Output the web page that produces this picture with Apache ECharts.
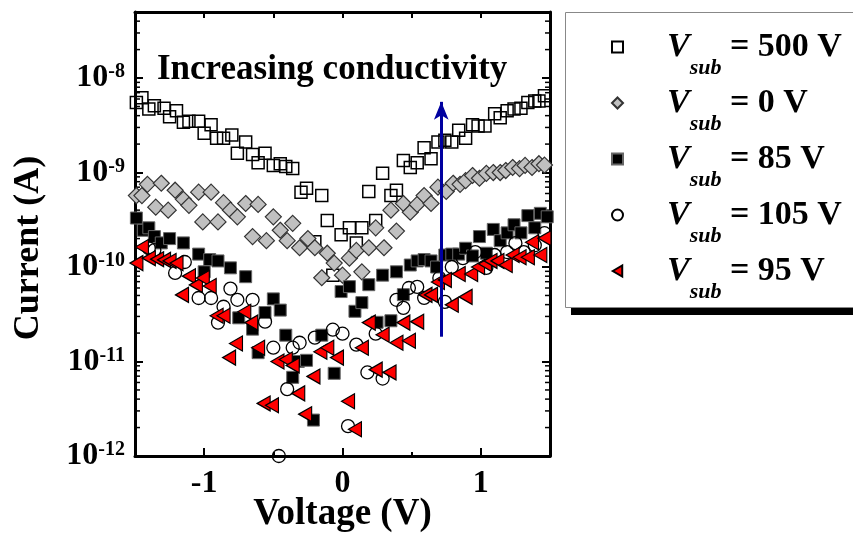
<!DOCTYPE html>
<html><head><meta charset="utf-8">
<script src="https://cdn.jsdelivr.net/npm/echarts@6/dist/echarts.min.js"></script>
<style>html,body{margin:0;padding:0;background:#fff}#c{width:853px;height:537px}</style>
</head><body><div id="c"></div>
<script>
// ---- data ----
const seriesNames = ['500', '0', '85', '105', '95'];
const xTickValues = [-1, 0, 1];
const decades = [-12, -11, -10, -9, -8];
const minorMultipliers = [2, 3, 4, 5, 6, 7, 8, 9];

const sub500 = [[-1.49,5.5e-9],[-1.45,6.2e-9],[-1.40,4.7e-9],[-1.36,5.1e-9],[-1.29,4.8e-9],[-1.25,3.9e-9],[-1.20,4.5e-9],[-1.15,3.4e-9],[-1.11,3.5e-9],[-1.04,3.5e-9],[-1.00,2.6e-9],[-0.95,3.2e-9],[-0.91,2.3e-9],[-0.86,2.3e-9],[-0.80,2.5e-9],[-0.76,1.6e-9],[-0.70,2.1e-9],[-0.65,1.55e-9],[-0.61,1.27e-9],[-0.56,1.6e-9],[-0.50,1.19e-9],[-0.45,1.24e-9],[-0.41,1.16e-9],[-0.36,1.1e-9],[-0.30,6.2e-10],[-0.26,6.8e-10],[-0.20,1.85e-10],[-0.15,5.7e-10],[-0.11,3.1e-10],[-0.07,8.2e-11],[-0.01,2.2e-10],[0.05,2.6e-10],[0.10,1.8e-10],[0.14,2.6e-10],[0.19,6.3e-10],[0.24,3.1e-10],[0.29,9.8e-10],[0.35,5.7e-10],[0.39,6.5e-10],[0.44,1.34e-9],[0.49,1.13e-9],[0.54,1.27e-9],[0.59,1.83e-9],[0.64,1.4e-9],[0.69,2.1e-9],[0.74,2.2e-9],[0.79,2.1e-9],[0.84,2.8e-9],[0.89,2.3e-9],[0.94,3.2e-9],[0.98,3.1e-9],[1.03,3.1e-9],[1.10,4.2e-9],[1.14,3.8e-9],[1.19,4.5e-9],[1.24,4.7e-9],[1.29,4.8e-9],[1.34,5.5e-9],[1.39,5.7e-9],[1.42,5.7e-9],[1.46,6.5e-9]];

const sub0 = [[-1.49,5.7e-10],[-1.45,5.7e-10],[-1.41,7.5e-10],[-1.35,4.3e-10],[-1.31,7.7e-10],[-1.26,4.0e-10],[-1.21,6.5e-10],[-1.15,5.2e-10],[-1.11,4.5e-10],[-1.04,6.2e-10],[-1.01,3.0e-10],[-0.95,6.2e-10],[-0.90,3.0e-10],[-0.86,4.8e-10],[-0.81,4.0e-10],[-0.76,3.4e-10],[-0.70,4.7e-10],[-0.65,2.1e-10],[-0.61,4.6e-10],[-0.55,1.9e-10],[-0.50,3.4e-10],[-0.45,2.45e-10],[-0.40,1.9e-10],[-0.36,2.9e-10],[-0.31,1.6e-10],[-0.25,2.0e-10],[-0.20,1.6e-10],[-0.15,7.7e-11],[-0.11,1.4e-10],[-0.06,1.1e-10],[0.00,8.2e-11],[0.05,1.24e-10],[0.10,1.5e-10],[0.14,8.9e-11],[0.19,1.6e-10],[0.24,2.6e-10],[0.30,1.6e-10],[0.35,4.0e-10],[0.39,2.4e-10],[0.44,4.7e-10],[0.49,3.8e-10],[0.54,4.6e-10],[0.59,5.7e-10],[0.64,4.7e-10],[0.69,7.0e-10],[0.75,6.3e-10],[0.80,7.7e-10],[0.85,7.5e-10],[0.89,8.2e-10],[0.94,9.3e-10],[0.99,8.7e-10],[1.04,9.8e-10],[1.09,1.0e-9],[1.14,1.0e-9],[1.18,1.05e-9],[1.23,1.13e-9],[1.28,1.1e-9],[1.32,1.19e-9],[1.37,1.13e-9],[1.42,1.24e-9],[1.46,1.2e-9]];

const sub85 = [[-1.49,3.3e-10],[-1.44,2.45e-10],[-1.40,2.6e-10],[-1.36,2.1e-10],[-1.31,1.8e-10],[-1.25,2.0e-10],[-1.15,1.8e-10],[-1.04,1.37e-10],[-1.00,8.9e-11],[-0.96,1.2e-10],[-0.90,1.16e-10],[-0.81,9.8e-11],[-0.75,2.9e-11],[-0.70,7.9e-11],[-0.65,2.2e-11],[-0.61,1.24e-11],[-0.56,3.3e-11],[-0.50,4.6e-11],[-0.45,3.5e-11],[-0.41,1.9e-11],[-0.36,6.8e-12],[-0.32,1.0e-11],[-0.26,1.03e-11],[-0.21,2.4e-12],[-0.15,1.9e-11],[-0.06,7.5e-12],[-0.01,5.5e-11],[0.05,6.2e-11],[0.09,3.4e-11],[0.14,4.2e-11],[0.19,6.5e-11],[0.25,2.6e-11],[0.29,8.2e-11],[0.35,2.7e-11],[0.39,8.9e-11],[0.44,5.1e-11],[0.49,1.05e-10],[0.54,1.16e-10],[0.59,1.2e-10],[0.64,1.16e-10],[0.68,1.0e-10],[0.74,1.34e-10],[0.79,1.37e-10],[0.84,1.37e-10],[0.89,1.58e-10],[0.94,1.31e-10],[0.99,2.1e-10],[1.04,1.4e-10],[1.09,2.5e-10],[1.14,1.9e-10],[1.19,2.3e-10],[1.24,2.8e-10],[1.29,2.3e-10],[1.34,3.5e-10],[1.39,2.6e-10],[1.43,3.7e-10],[1.48,3.4e-10]];

const sub105 = [[-1.40,1.58e-10],[-1.36,1.51e-10],[-1.21,8.65e-11],[-1.14,1.13e-10],[-1.04,4.7e-11],[-0.95,4.7e-11],[-0.90,2.58e-11],[-0.86,3.8e-11],[-0.81,5.9e-11],[-0.76,4.5e-11],[-0.65,4.5e-11],[-0.56,2.64e-11],[-0.50,1.4e-11],[-0.46,1.0e-12],[-0.40,5.1e-12],[-0.36,1.4e-11],[-0.31,1.58e-11],[-0.20,1.79e-11],[-0.07,2.17e-11],[0.00,1.97e-11],[0.04,2.07e-12],[0.10,1.51e-11],[0.18,7.66e-12],[0.24,1.97e-11],[0.29,6.6e-12],[0.39,4.5e-11],[0.44,3.7e-11],[0.48,6.0e-11],[0.54,6.16e-11],[0.59,4.72e-11],[0.70,7.66e-11],[0.74,4.28e-11],[0.79,1.0e-10],[0.87,1.24e-10],[0.96,1.44e-10],[1.04,9.8e-11],[1.10,1.34e-10],[1.19,1.44e-10],[1.25,1.79e-10],[1.31,1.44e-10],[1.39,1.7e-10],[1.46,2.28e-10]];

const sub95 = [[-1.49,1.1e-10],[-1.45,1.63e-10],[-1.40,1.24e-10],[-1.34,1.21e-10],[-1.29,1.19e-10],[-1.25,1.16e-10],[-1.20,1.1e-10],[-1.16,5.07e-11],[-1.11,8.0e-11],[-1.06,6.47e-11],[-1.01,7.66e-11],[-0.96,6.3e-11],[-0.91,3.05e-11],[-0.86,3.05e-11],[-0.82,1.1e-11],[-0.77,1.55e-11],[-0.71,3.36e-11],[-0.66,2.58e-11],[-0.61,1.4e-11],[-0.57,3.6e-12],[-0.51,3.44e-12],[-0.47,1.0e-11],[-0.41,1.05e-11],[-0.36,9.1e-12],[-0.32,4.6e-12],[-0.27,2.77e-12],[-0.21,6.95e-12],[-0.16,1.27e-11],[-0.11,1.4e-11],[-0.04,1.1e-11],[0.04,3.8e-12],[0.09,1.92e-12],[0.14,1.4e-11],[0.19,2.58e-11],[0.24,8.2e-12],[0.29,1.92e-11],[0.34,7.66e-12],[0.39,1.58e-11],[0.44,2.58e-11],[0.48,1.66e-11],[0.54,2.64e-11],[0.60,5.07e-11],[0.64,5.07e-11],[0.69,6.95e-11],[0.74,7.3e-11],[0.79,3.98e-11],[0.84,8.44e-11],[0.89,4.83e-11],[0.93,8.44e-11],[0.98,1.0e-10],[1.03,1.08e-10],[1.07,1.16e-10],[1.12,1.16e-10],[1.18,1.05e-10],[1.23,1.34e-10],[1.28,1.27e-10],[1.34,1.27e-10],[1.37,1.83e-10],[1.43,1.34e-10],[1.46,2.02e-10]];

const arrowVoltage = 0.714;
const arrowFrom = 1.83e-11;
const arrowTo = 5.6e-9;

const xMin = -1.5, xMax = 1.5;
const yMin = 1e-12, yMax = 5e-8;

// ---- chart ----
const FONT = '"Liberation Serif", "Times New Roman", serif';
const chart = echarts.init(document.getElementById('c'), null, {renderer: 'canvas'});

const minorTicks = [];
decades.forEach(d => minorMultipliers.forEach(m => {
  const v = m * Math.pow(10, d);
  if (v < yMax) minorTicks.push([xMin, v]);
}));

function yLabel(v) {
  const e = Math.log10(v);
  const r = Math.round(e);
  if (Math.abs(e - r) > 1e-6) return '';
  return '{b|10}{s|' + r + '}';
}
function xLabel(v) {
  if (Math.abs(v - Math.round(v)) > 1e-9) return '';
  return String(Math.round(v));
}

const axisLineStyle = {color: '#000', width: 3};
const tri = 'path://M0,50 L86,0 L86,100 Z';

const option = {
  animation: false,
  backgroundColor: '#fff',
  grid: {left: 135, right: 303, top: 12, bottom: 81, containLabel: false, outerBoundsMode: 'none'},
  xAxis: [
    {type: 'value', min: xMin, max: xMax, interval: 0.5, position: 'bottom',
     axisLine: {show: true, onZero: false, lineStyle: axisLineStyle},
     axisTick: {show: true, inside: true, length: 4, lineStyle: {width: 2, color: '#000'}},
     axisLabel: {show: true, margin: 12, formatter: xLabel, color: '#000',
       fontFamily: FONT, fontWeight: 'bold', fontSize: 32},
     splitLine: {show: false},
     name: 'Voltage (V)', nameLocation: 'middle', nameGap: 40, nameMoveOverlap: false,
     nameTextStyle: {fontFamily: FONT, fontWeight: 'bold', fontSize: 37, color: '#000'}},
    {type: 'value', min: xMin, max: xMax, interval: 0.5, position: 'bottom',
     axisLine: {show: false, onZero: false},
     axisTick: {show: true, inside: true, length: 8, customValues: xTickValues, lineStyle: {width: 2, color: '#000'}},
     axisLabel: {show: false}, splitLine: {show: false}},
    {type: 'value', min: xMin, max: xMax, interval: 0.5, position: 'top',
     axisLine: {show: true, onZero: false, lineStyle: axisLineStyle},
     axisTick: {show: true, inside: true, length: 6, lineStyle: {width: 2, color: '#000'}},
     axisLabel: {show: false}, splitLine: {show: false}}
  ],
  yAxis: [
    {type: 'log', logBase: 10, min: yMin, max: yMax, position: 'left',
     axisLine: {show: true, onZero: false, lineStyle: axisLineStyle},
     axisTick: {show: true, inside: true, length: 8, lineStyle: {width: 2, color: '#000'}},
     axisLabel: {show: true, margin: 10, formatter: yLabel, color: '#000',
       rich: {
         b: {fontFamily: FONT, fontWeight: 'bold', fontSize: 32, lineHeight: 32, verticalAlign: 'bottom', color: '#000'},
         s: {fontFamily: FONT, fontWeight: 'bold', fontSize: 20, lineHeight: 20, verticalAlign: 'top', padding: [0, 0, 18, 0], color: '#000'}
       }},
     splitLine: {show: false},
     name: 'Current (A)', nameLocation: 'middle', nameGap: 88,
     nameTextStyle: {fontFamily: FONT, fontWeight: 'bold', fontSize: 36, color: '#000', padding: [0, 28, 0, 0]}},
    {type: 'log', logBase: 10, min: yMin, max: yMax, position: 'right',
     axisLine: {show: true, onZero: false, lineStyle: axisLineStyle},
     axisTick: {show: true, inside: true, length: 8, lineStyle: {width: 2, color: '#000'}},
     axisLabel: {show: false}, splitLine: {show: false}}
  ],
  legend: {
    orient: 'vertical', left: 565, top: 24, z: 5,
    data: seriesNames,
    itemWidth: 11, itemHeight: 11, itemGap: -4,
    padding: [6, 0, 6, 46],
    selectedMode: false,
    formatter: n => '{sp| }{v|V}{s|sub}{t| = ' + n + ' V}',
    textStyle: {
      rich: {
        sp: {width: 39, fontSize: 34, lineHeight: 34, verticalAlign: 'top', padding: [0, 0, 26, 0]},
        v: {fontFamily: FONT, fontWeight: 'bold', fontStyle: 'italic', fontSize: 34, lineHeight: 34, verticalAlign: 'top', padding: [0, 0, 26, 0], color: '#000'},
        s: {fontFamily: FONT, fontWeight: 'bold', fontStyle: 'italic', fontSize: 22, lineHeight: 22, verticalAlign: 'top', padding: [27, 0, 0, 0], color: '#000'},
        t: {fontFamily: FONT, fontWeight: 'bold', fontSize: 34, lineHeight: 34, verticalAlign: 'top', padding: [0, 0, 26, 0], color: '#000'}
      }
    }
  },
  graphic: [
    {type: 'rect', left: 571, top: 19, z: 1, silent: true,
     shape: {width: 320, height: 296}, style: {fill: '#000'}},
    {type: 'rect', left: 565, top: 12, z: 2, silent: true,
     shape: {width: 320, height: 295}, style: {fill: '#fff', stroke: '#888', lineWidth: 1}},
    {type: 'text', left: 157, top: 52, silent: true,
     style: {text: 'Increasing conductivity', fontFamily: FONT, fontWeight: 'bold', fontSize: 35, fill: '#000'}}
  ],
  series: [
    {name: '500', type: 'scatter', data: sub500, symbol: 'rect', symbolSize: 12,
     itemStyle: {color: 'rgba(255,255,255,0)', borderColor: '#000', borderWidth: 1.5, opacity: 1}},
    {name: '0', type: 'scatter', data: sub0, symbol: 'diamond', symbolSize: 16,
     itemStyle: {color: '#c0c0c0', borderColor: '#333', borderWidth: 1.2, opacity: 1}},
    {name: '85', type: 'scatter', data: sub85, symbol: 'rect', symbolSize: 12,
     itemStyle: {color: '#000', borderColor: '#666', borderWidth: 1, opacity: 1}},
    {name: '105', type: 'scatter', data: sub105, symbol: 'circle', symbolSize: 13,
     itemStyle: {color: 'rgba(255,255,255,0)', borderColor: '#000', borderWidth: 1.3, opacity: 1}},
    {name: '95', type: 'scatter', data: sub95, symbol: tri, symbolSize: [13, 15],
     itemStyle: {color: '#ff0000', borderColor: '#000', borderWidth: 1.2, opacity: 1},
     markLine: {silent: true, symbol: ['none', 'arrow'], symbolSize: [11, 18],
       lineStyle: {color: '#0000a0', width: 3, type: 'solid', opacity: 1}, label: {show: false},
       emphasis: {disabled: true},
       data: [[{coord: [arrowVoltage, arrowFrom]}, {coord: [arrowVoltage, arrowTo]}]]}},
    {name: 'minorTicks', type: 'custom', data: minorTicks, silent: true, clip: false,
     encode: {x: 0, y: 1},
     renderItem: (params, api) => {
       const p = api.coord([xMin, api.value(1)]);
       const r = api.coord([xMax, api.value(1)]);
       return {type: 'group', children: [
         {type: 'line', shape: {x1: p[0], y1: p[1], x2: p[0] + 5, y2: p[1]}, style: {stroke: '#000', lineWidth: 1.5}},
         {type: 'line', shape: {x1: r[0] - 5, y1: r[1], x2: r[0], y2: r[1]}, style: {stroke: '#000', lineWidth: 1.5}}
       ]};
     }}
  ]
};
chart.setOption(option);
</script>
</body></html>
